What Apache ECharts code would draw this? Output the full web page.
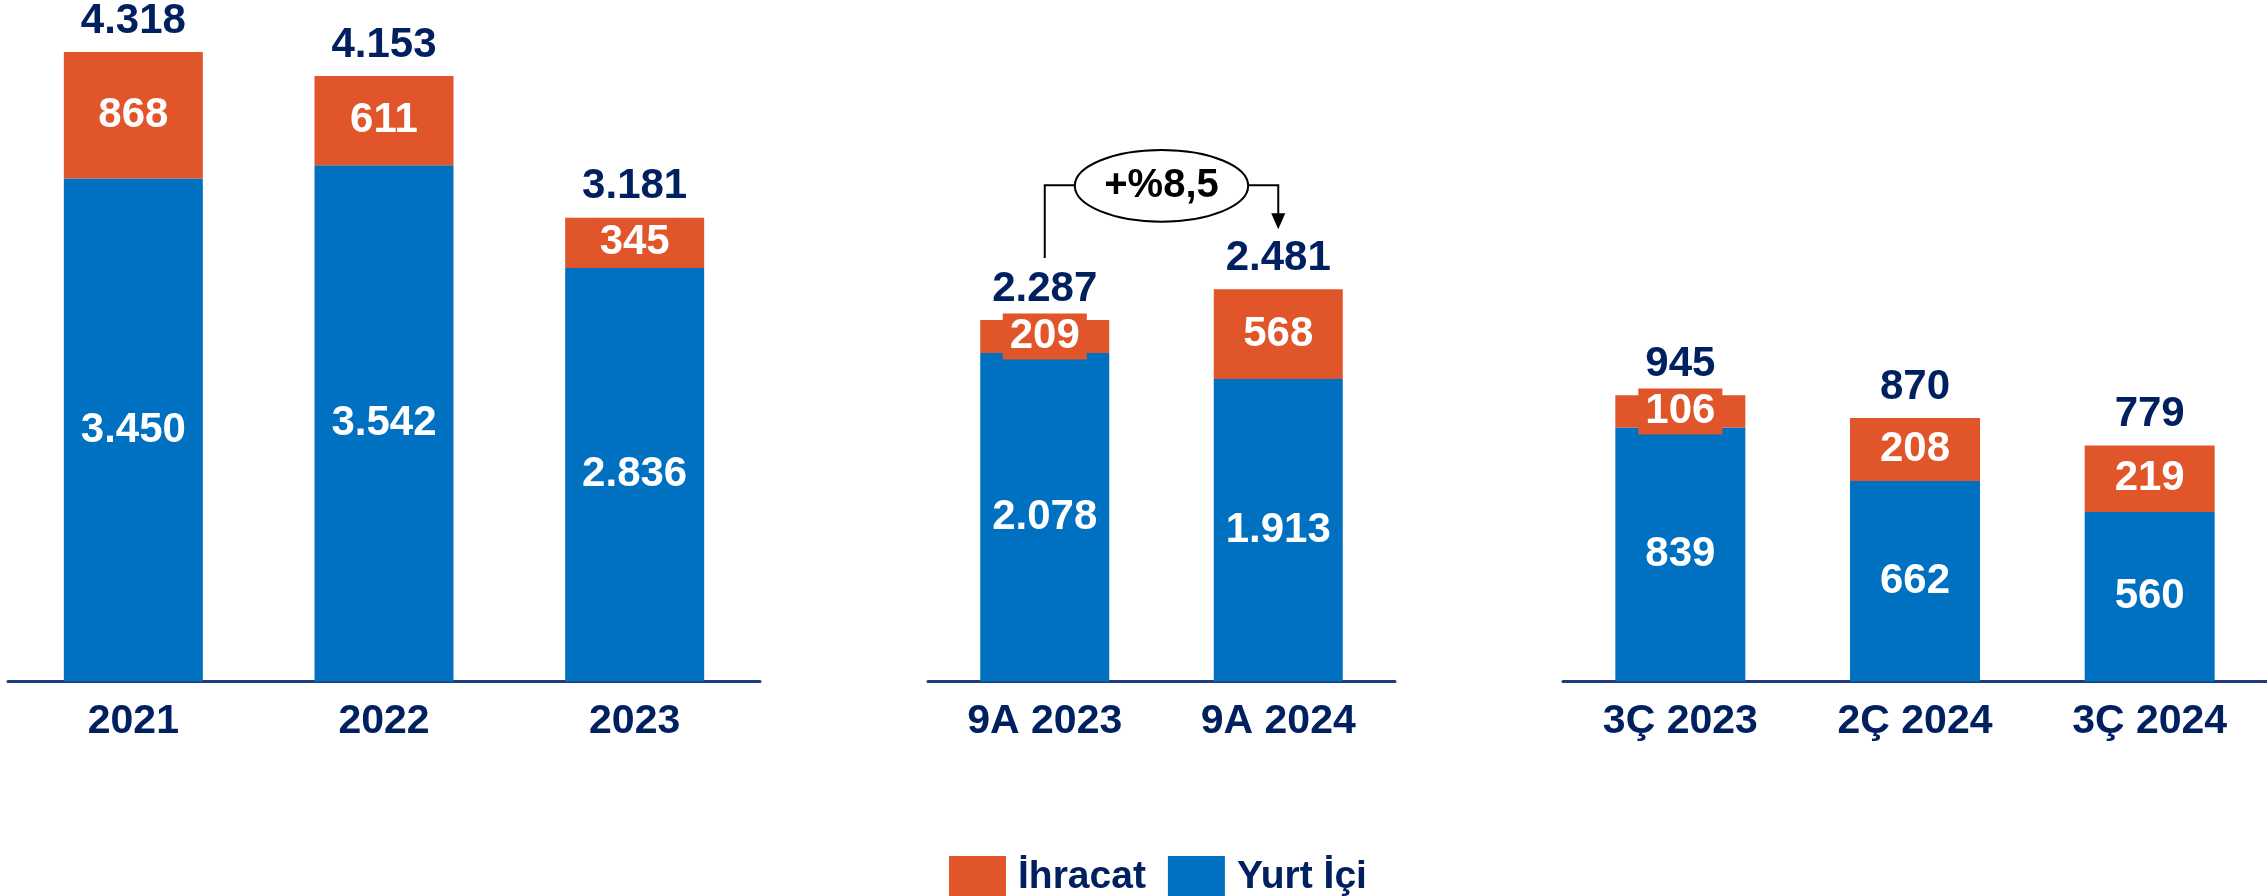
<!DOCTYPE html>
<html>
<head>
<meta charset="utf-8">
<script src="https://cdn.jsdelivr.net/npm/echarts@6/dist/echarts.min.js"></script>
<style>
html,body{margin:0;padding:0;background:#fff;}
#c{width:2267px;height:896px;}
</style>
</head>
<body>
<div id="c"></div>
<script>
// ---- data ----
const catsAnnual = ['2021', '2022', '2023'];
const domesticAnnual = [3450, 3542, 2836];
const exportAnnual = [868, 611, 345];

const cats9M = ['9A 2023', '9A 2024'];
const domestic9M = [2078, 1913];
const export9M = [209, 568];

const catsQ = ['3Ç 2023', '2Ç 2024', '3Ç 2024'];
const domesticQ = [839, 662, 560];
const exportQ = [106, 208, 219];

const growthLabel = '+%8,5';
const seriesNames = ['İhracat', 'Yurt İçi'];

// ---- style ----
const ORANGE = '#E05529';
const BLUE = '#0070C0';
const NAVY = '#002060';
const FONT = '"Liberation Sans", Arial, sans-serif';

function fmt(v) { return String(v).replace(/\B(?=(\d{3})+(?!\d))/g, '.'); }
function sum(a, b) { return a.map((v, i) => v + b[i]); }

const panels = [
  { cats: catsAnnual, dom: domesticAnnual, exp: exportAnnual, left: 8, width: 752, max: 4600, scale: 0.14578, barW: 139 },
  { cats: cats9M, dom: domestic9M, exp: export9M, left: 928, width: 467, max: 4000, scale: 0.15807, barW: 129 },
  { cats: catsQ, dom: domesticQ, exp: exportQ, left: 1563, width: 704, max: 2000, scale: 0.3028, barW: 130 }
];
const BASE = 681.5;

const grid = [], xAxis = [], yAxis = [], series = [];
panels.forEach((p, i) => {
  const h = p.max * p.scale;
  grid.push({ left: p.left, width: p.width, top: BASE - h, height: h, containLabel: false });
  xAxis.push({
    type: 'category', gridIndex: i, data: p.cats,
    axisTick: { show: false },
    axisLine: { lineStyle: { color: '#1F3C7F', width: 3 } },
    axisLabel: { color: NAVY, fontSize: 41, fontWeight: 'bold', fontFamily: FONT, margin: 20 }
  });
  yAxis.push({ type: 'value', gridIndex: i, min: 0, max: p.max, show: false, splitLine: { show: false } });
  series.push({
    name: 'Yurt İçi', type: 'bar', stack: 's' + i, xAxisIndex: i, yAxisIndex: i,
    data: p.dom, barWidth: p.barW, itemStyle: { color: BLUE },
    label: { show: true, position: 'inside', color: '#fff', fontSize: 42, fontWeight: 'bold', fontFamily: FONT, formatter: o => fmt(o.value) }
  });
  series.push({
    name: 'İhracat', type: 'bar', stack: 's' + i, xAxisIndex: i, yAxisIndex: i,
    data: p.exp, barWidth: p.barW, itemStyle: { color: ORANGE },
    label: { show: true, position: 'inside', color: '#fff', fontSize: 42, fontWeight: 'bold', fontFamily: FONT,
      backgroundColor: ORANGE, padding: [2, 7], formatter: o => fmt(o.value) }
  });
  series.push({
    name: 'Toplam', type: 'bar', xAxisIndex: i, yAxisIndex: i, barGap: '-100%',
    data: sum(p.dom, p.exp), barWidth: p.barW, itemStyle: { color: 'rgba(0,0,0,0)' }, silent: true,
    label: { show: true, position: 'top', distance: 10, color: NAVY, fontSize: 42, fontWeight: 'bold', fontFamily: FONT, formatter: o => fmt(o.value) }
  });
});

const chart = echarts.init(document.getElementById('c'), null, { renderer: 'canvas' });
chart.setOption({
  animation: false,
  backgroundColor: '#fff',
  grid, xAxis, yAxis, series,
  legend: {
    data: seriesNames, left: 944, top: 851, icon: 'rect', itemWidth: 57, itemHeight: 42, itemGap: 22,
    textStyle: { color: NAVY, fontSize: 39, fontWeight: 'bold', fontFamily: FONT, padding: [0, 0, 0, 7] }
  }
});

// ---- growth annotation between 9A bars ----
const tot9 = sum(domestic9M, export9M);
const a = chart.convertToPixel({ gridIndex: 1 }, [cats9M[0], tot9[0]]);
const b = chart.convertToPixel({ gridIndex: 1 }, [cats9M[1], tot9[1]]);
const levelY = Math.min(a[1], b[1]) - 104;
const cx = (a[0] + b[0]) / 2, rx = 86.7, ry = 35.8;
const tipY = b[1] - 60;
chart.setOption({
  graphic: [
    { type: 'polyline', shape: { points: [[a[0], a[1] - 62], [a[0], levelY], [cx - rx, levelY]] }, style: { stroke: '#000', lineWidth: 2, fill: null } },
    { type: 'polyline', shape: { points: [[cx + rx, levelY], [b[0], levelY], [b[0], tipY - 14]] }, style: { stroke: '#000', lineWidth: 2, fill: null } },
    { type: 'polygon', shape: { points: [[b[0] - 7, tipY - 16], [b[0] + 7, tipY - 16], [b[0], tipY]] }, style: { fill: '#000' } },
    { type: 'ellipse', shape: { cx: cx, cy: levelY + 0.5, rx: rx, ry: ry }, style: { fill: '#fff', stroke: '#000', lineWidth: 2 } },
    { type: 'text', x: cx, y: levelY + 1, style: { text: growthLabel, align: 'center', verticalAlign: 'middle', fill: '#000', font: 'bold 40px ' + FONT } }
  ]
});
</script>
</body>
</html>
